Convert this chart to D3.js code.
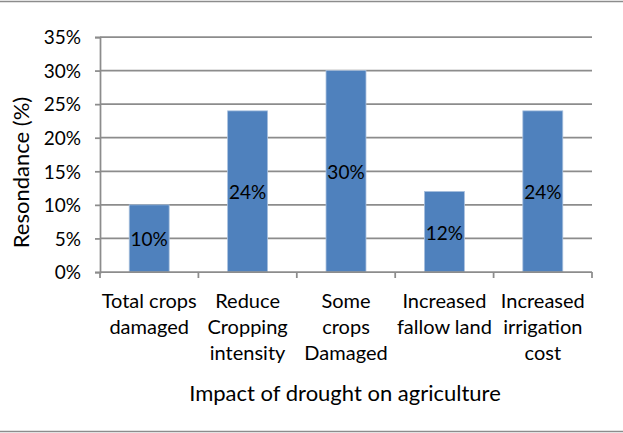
<!DOCTYPE html>
<html>
<head>
<meta charset="utf-8">
<script src="https://cdn.jsdelivr.net/npm/d3@7/dist/d3.min.js"></script>
<style>
  html, body { margin: 0; padding: 0; background: #fff; }
  svg { display: block; }
  text { font-family: Lato, "Open Sans", sans-serif; fill: #000; }
</style>
</head>
<body>
<svg id="chart" width="623" height="433"></svg>
<script>
// Survey responses: impact of drought on agriculture
const categories = [
  ["Total crops", "damaged"],
  ["Reduce", "Cropping", "intensity"],
  ["Some", "crops", "Damaged"],
  ["Increased", "fallow land"],
  ["Increased", "irrigation", "cost"]
];
const values = [10, 24, 30, 12, 24];
const yTicks = [0, 5, 10, 15, 20, 25, 30, 35];
const yTitle = "Resondance (%)";
const xTitle = "Impact of drought on agriculture";

const W = 623, H = 433;
const plot = { left: 100, right: 592, top: 37, bottom: 272 };
const gridColor = "#8c8c8c";
const barColor = "#4f81bd";

const svg = d3.select("#chart");

// outer frame lines (top and bottom)
svg.append("line").attr("x1", 0).attr("x2", W).attr("y1", 1.5).attr("y2", 1.5)
  .attr("stroke", "#8c8c8c").attr("stroke-width", 1.5);
svg.append("line").attr("x1", 0).attr("x2", W).attr("y1", 431.5).attr("y2", 431.5)
  .attr("stroke", "#8c8c8c").attr("stroke-width", 1.5);

const y = d3.scaleLinear().domain([0, 35]).range([plot.bottom, plot.top]);
const inner = 0.594;
const x = d3.scaleBand()
  .domain(d3.range(categories.length))
  .range([plot.left, plot.right])
  .paddingInner(inner)
  .paddingOuter(inner / 2);

// horizontal gridlines
svg.append("g").selectAll("line").data(yTicks.filter(d => d > 0)).join("line")
  .attr("x1", plot.left).attr("x2", plot.right)
  .attr("y1", d => y(d)).attr("y2", d => y(d))
  .attr("stroke", gridColor).attr("stroke-width", 1.75);

// y axis
const yAxis = svg.append("g")
  .attr("transform", `translate(${plot.left},0)`)
  .call(d3.axisLeft(y).tickValues(yTicks).tickSize(5).tickPadding(14).tickFormat(d => d + "%"));
yAxis.select(".domain").attr("stroke", gridColor).attr("stroke-width", 1.75);
yAxis.selectAll(".tick line").attr("stroke", gridColor).attr("stroke-width", 1.75);
yAxis.selectAll(".tick text")
  .attr("font-family", "Lato, 'Open Sans', sans-serif")
  .attr("font-size", 19).attr("fill", "#000").attr("dy", "0.36em");

// bars
svg.append("g").selectAll("rect").data(values).join("rect")
  .attr("x", (d, i) => x(i))
  .attr("width", x.bandwidth())
  .attr("y", d => y(d))
  .attr("height", d => y(0) - y(d))
  .attr("fill", barColor)
  .attr("stroke", "#a9c0de").attr("stroke-width", 0.8);

// value labels centred in each bar
svg.append("g").selectAll("text").data(values).join("text")
  .attr("x", (d, i) => x(i) + x.bandwidth() / 2)
  .attr("y", d => (y(d) + y(0)) / 2)
  .attr("dy", "0.42em")
  .attr("text-anchor", "middle")
  .attr("font-size", 19)
  .text(d => d + "%");

// x axis line and boundary ticks
const xAxis = svg.append("g");
xAxis.append("line")
  .attr("x1", plot.left).attr("x2", plot.right)
  .attr("y1", plot.bottom).attr("y2", plot.bottom)
  .attr("stroke", gridColor).attr("stroke-width", 1.75);
const step = x.step();
xAxis.selectAll(".bt").data(d3.range(categories.length + 1)).join("line")
  .attr("class", "bt")
  .attr("x1", i => plot.left + i * step).attr("x2", i => plot.left + i * step)
  .attr("y1", plot.bottom).attr("y2", plot.bottom + 6)
  .attr("stroke", gridColor).attr("stroke-width", 1.75);

// category labels
const catG = svg.append("g").selectAll("text").data(categories).join("text")
  .attr("text-anchor", "middle")
  .attr("font-size", 20);
catG.selectAll("tspan").data((d, i) => d.map(s => ({ s, i }))).join("tspan")
  .attr("x", d => x(d.i) + x.bandwidth() / 2)
  .attr("y", (d, j) => 301 + j * 26)
  .attr("dy", "0.36em")
  .text(d => d.s);

// axis titles
svg.append("text")
  .attr("transform", "translate(21,172.5) rotate(-90)")
  .attr("text-anchor", "middle").attr("dy", "0.36em")
  .attr("font-size", 22)
  .text(yTitle);
svg.append("text")
  .attr("x", 345).attr("y", 393).attr("dy", "0.36em")
  .attr("text-anchor", "middle")
  .attr("font-size", 22)
  .text(xTitle);
</script>
</body>
</html>
